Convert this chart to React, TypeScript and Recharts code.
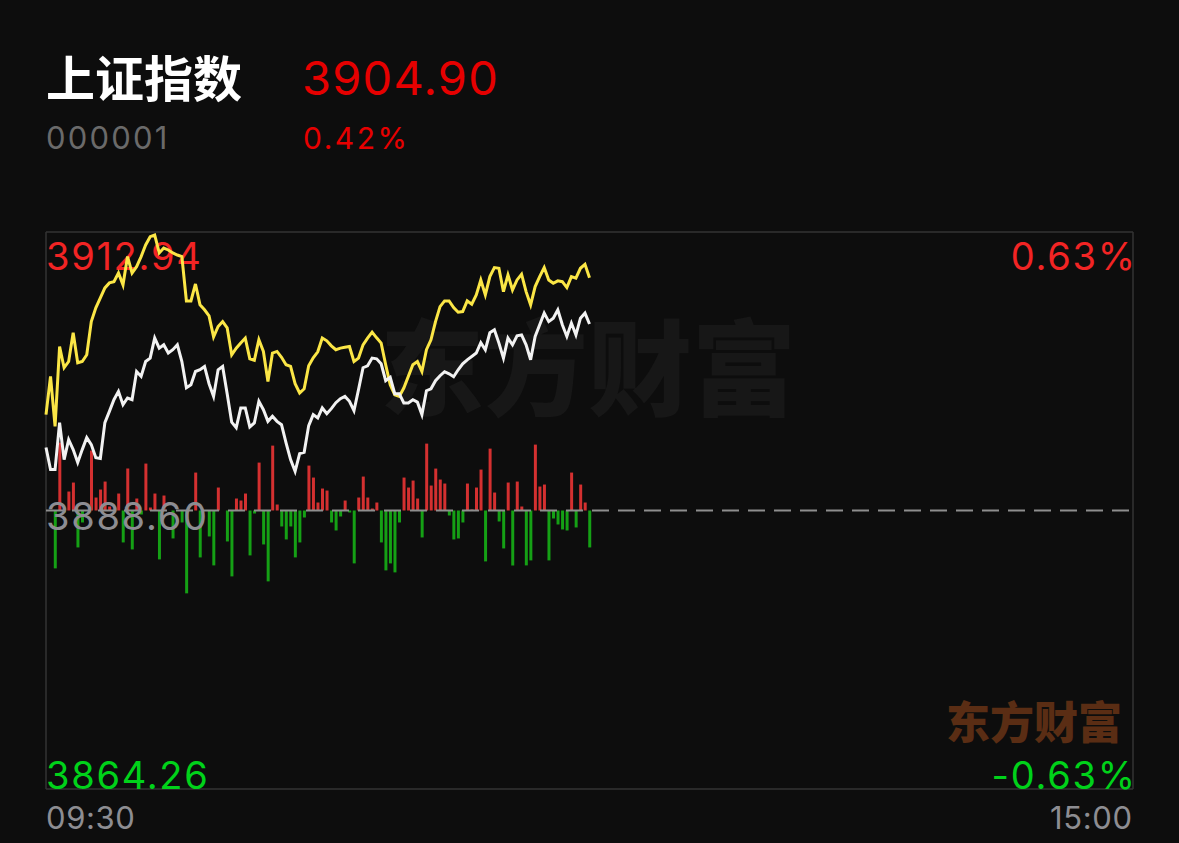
import React from "react";
import {
  ComposedChart,
  Line,
  Bar,
  Cell,
  XAxis,
  YAxis,
  CartesianGrid,
  ReferenceLine,
} from "recharts";

// ---- data ----
const indexName = "上证指数";
const indexCode = "000001";
const lastPrice = 3904.9;
const PREV_CLOSE = 3888.6;
const HIGH = 3912.94;
const LOW = 3864.26;
const QUARTER_UP = 3900.77;
const QUARTER_DOWN = 3876.43;
const timeLabels = ["09:30", "15:00"];
const minuteTicks = [0, 60, 120, 180, 240];
const priceTicks = [LOW, QUARTER_DOWN, PREV_CLOSE, QUARTER_UP, HIGH];

const yellowPrices = [
  3896.98, 3900.32, 3895.95, 3902.93, 3901.08, 3901.62, 3904.13, 3901.51, 3901.62, 3902.21,
  3905.11, 3906.31, 3907.18, 3908.05, 3908.49, 3908.6, 3909.36, 3908.32, 3910.79, 3909.36,
  3909.91, 3910.79, 3911.81, 3912.53, 3912.68, 3911.11, 3911.54, 3911.37, 3911.11, 3910.93,
  3910.79, 3906.92, 3906.92, 3908.4, 3906.57, 3906.14, 3905.61, 3903.78, 3904.68, 3905.11,
  3904.57, 3902.21, 3902.79, 3903.23, 3903.67, 3901.86, 3901.73, 3903.52, 3902.5, 3899.88,
  3902.36, 3902.5, 3901.99, 3901.34, 3901.19, 3899.68, 3898.87, 3899.24, 3901.25, 3901.95,
  3902.47, 3903.67, 3903.43, 3902.99, 3902.65, 3902.79, 3902.86, 3902.93, 3901.62, 3901.92,
  3903.08, 3903.67, 3904.19, 3903.69, 3903.23, 3901.34, 3899.59, 3898.72, 3898.57, 3899.3,
  3900.32, 3901.34, 3901.62, 3900.75, 3902.65, 3903.52, 3905.11, 3906.42, 3906.92, 3906.92,
  3906.34, 3905.93, 3905.99, 3906.92, 3906.63, 3907.44, 3908.75, 3907.44, 3909.04, 3909.83,
  3909.77, 3907.73, 3909.19, 3907.88, 3908.75, 3909.25, 3907.73, 3906.57, 3908.17, 3909.04,
  3909.83, 3908.75, 3908.46, 3908.67, 3908.6, 3908.08, 3909.04, 3908.9, 3909.77, 3910.12,
  3908.95,
];

const whitePrices = [
  3894.1, 3892.18, 3892.18, 3896.28, 3893.05, 3894.79, 3893.92, 3892.79, 3893.92, 3894.97,
  3894.36, 3893.22, 3893.14, 3896.28, 3897.26, 3898.28, 3899.01, 3897.85, 3898.43, 3898.28,
  3900.75, 3900.32, 3901.62, 3901.92, 3903.67, 3902.79, 3903.08, 3902.36, 3902.65, 3903.08,
  3901.62, 3899.33, 3899.59, 3900.75, 3900.9, 3901.19, 3899.68, 3898.57, 3900.9, 3901.19,
  3898.81, 3896.32, 3895.84, 3897.56, 3897.56, 3895.9, 3896.25, 3898.14, 3897.41, 3896.39,
  3896.83, 3896.39, 3896.1, 3894.51, 3893.05, 3892.03, 3893.57, 3893.69, 3896.02, 3896.98,
  3896.69, 3897.56, 3897.06, 3897.5, 3898.02, 3898.37, 3898.57, 3898.14, 3897.32, 3899.16,
  3901.08, 3901.25, 3901.92, 3901.86, 3901.42, 3899.94, 3900.25, 3898.81, 3898.81, 3898.0,
  3898.0, 3898.28, 3898.07, 3896.98, 3899.07, 3899.24, 3899.94, 3900.38, 3900.73, 3900.55,
  3900.29, 3900.9, 3901.42, 3901.77, 3902.06, 3902.36, 3903.26, 3902.65, 3904.13, 3904.39,
  3903.23, 3901.92, 3903.67, 3903.08, 3903.87, 3903.95, 3903.08, 3901.77, 3903.81, 3904.83,
  3905.85, 3905.11, 3905.41, 3906.14, 3904.83, 3903.81, 3904.98, 3903.95, 3905.41, 3905.85,
  3904.9,
];

const barValues = [
  0, 0, -58, 68, -2, 19, 28, -37, -12, 0,
  60, 13, 21, 29, 4, 0, 17, -32, 42, -39,
  12, -4, 47, 3, 17, -49, 15, 0, -28, 0,
  -12, -83, 0, 38, -47, 0, -26, -55, 23, 0,
  -31, -66, 12, 10, 17, -45, -3, 48, -34, -71,
  65, 6, -16, -29, -16, -47, -32, -7, 45, 33,
  8, 22, 20, -12, -20, -6, 10, -2, -53, 13,
  34, 13, 2, 8, -32, -60, -53, -62, -12, 33,
  23, 30, 12, -27, 67, 25, 42, 31, 27, -5,
  -29, -28, -12, 27, 1, 23, 41, -51, 62, 18,
  -11, -38, 28, -55, 29, 4, -55, -50, 66, 24,
  26, -50, -8, -14, -19, -20, 38, -17, 26, 8,
  -37,
];
const BAR_RANGE = 279;

const data = yellowPrices.map((y, i) => ({
  t: i,
  yellow: y,
  white: whitePrices[i],
  bar: barValues[i],
}));

// ---- styles ----
const BG = "#0d0d0d";
const NUM_FONT = "Inter, 'Noto Sans', sans-serif";
const CJK_FONT = "'Noto Sans CJK SC', sans-serif";
const RED = "#f22424";
const GREEN = "#00d21a";
const GRAY = "#8d8d92";
const GRID = "#333333";

const pct = (v: number) => ((v - PREV_CLOSE) / PREV_CLOSE) * 100;

// label rendered from a ReferenceLine's viewBox (positioned by the chart's scales)
function makeLabel(
  text: string,
  color: string,
  side: "left" | "right",
  dy: number,
  size = 38,
  bottom = false,
  spacing = 0.045,
  rightPad = 2
) {
  return (props: any) => {
    const vb = props.viewBox || {};
    const bx = vb.x || 0;
    const by = (vb.y || 0) + (bottom ? vb.height || 0 : 0);
    const w = vb.width || 0;
    const ls = size * spacing;
    const x = side === "left" ? bx : bx + w + ls + rightPad;
    return (
      <text
        x={x}
        y={by + dy}
        fill={color}
        fontSize={size}
        fontFamily={NUM_FONT}
        letterSpacing={ls}
        textAnchor={side === "left" ? "start" : "end"}
      >
        {text}
      </text>
    );
  };
}

export default function App() {
  const upPct = pct(HIGH).toFixed(2) + "%";
  const downPct = pct(LOW).toFixed(2) + "%";
  const lastPct = pct(lastPrice).toFixed(2) + "%";
  return (
    <div
      style={{
        position: "fixed",
        left: 0,
        top: 0,
        width: 1179,
        height: 843,
        background: BG,
        overflow: "hidden",
      }}
    >
      {/* header */}
      <div
        style={{
          position: "absolute",
          left: 46,
          top: 46,
          fontFamily: CJK_FONT,
          fontSize: 49,
          fontWeight: 700,
          color: "#ffffff",
          lineHeight: "60px",
          whiteSpace: "nowrap",
        }}
      >
        {indexName}
      </div>
      <div
        style={{
          position: "absolute",
          left: 302,
          top: 48,
          fontFamily: NUM_FONT,
          fontSize: 47,
          letterSpacing: 1.2,
          color: "#e60000",
          lineHeight: "60px",
        }}
      >
        {lastPrice.toFixed(2)}
      </div>
      <div
        style={{
          position: "absolute",
          left: 46,
          top: 118,
          fontFamily: NUM_FONT,
          fontSize: 31,
          letterSpacing: 2.2,
          color: "#6a6a6a",
          lineHeight: "40px",
        }}
      >
        {indexCode}
      </div>
      <div
        style={{
          position: "absolute",
          left: 303,
          top: 118,
          fontFamily: NUM_FONT,
          fontSize: 30,
          letterSpacing: 2.5,
          color: "#e60000",
          lineHeight: "40px",
        }}
      >
        {lastPct}
      </div>

      {/* watermarks */}
      <div
        style={{
          position: "absolute",
          left: 380,
          top: 303,
          fontFamily: CJK_FONT,
          fontSize: 104,
          fontWeight: 900,
          color: "#171717",
          lineHeight: "120px",
          whiteSpace: "nowrap",
        }}
      >
        东方财富
      </div>
      <div
        style={{
          position: "absolute",
          left: 946,
          top: 692,
          fontFamily: CJK_FONT,
          fontSize: 44,
          fontWeight: 900,
          color: "#5a2d14",
          lineHeight: "56px",
          whiteSpace: "nowrap",
        }}
      >
        东方财富
      </div>

      <div style={{ position: "absolute", left: 0, top: 0 }}>
        <ComposedChart
          width={1179}
          height={843}
          data={data}
          margin={{ top: 232, right: 46, bottom: 54, left: 46 }}
        >
          <CartesianGrid stroke={GRID} strokeWidth={1.5} yAxisId="price" fill="none" />
          <XAxis
            dataKey="t"
            type="number"
            domain={[0, 240]}
            ticks={minuteTicks}
            height={0}
            axisLine={false}
            tickLine={false}
            tick={false}
            interval={0}
          />
          <YAxis
            yAxisId="price"
            type="number"
            domain={[LOW, HIGH]}
            ticks={priceTicks}
            width={0}
            axisLine={false}
            tickLine={false}
            tick={false}
            interval={0}
            allowDataOverflow
          />
          <YAxis yAxisId="bar" type="number" domain={[-BAR_RANGE, BAR_RANGE]} hide allowDataOverflow />
          <Bar yAxisId="bar" dataKey="bar" barSize={3} isAnimationActive={false}>
            {data.map((d, i) => (
              <Cell key={i} fill={d.bar >= 0 ? "#d43030" : "#15a015"} />
            ))}
          </Bar>
          <ReferenceLine
            yAxisId="price"
            y={PREV_CLOSE}
            stroke="#8e8e8e"
            strokeWidth={2}
            strokeDasharray="17 9"
            label={makeLabel(PREV_CLOSE.toFixed(2), GRAY, "left", 19)}
          />
          <ReferenceLine
            yAxisId="price"
            y={HIGH}
            stroke="none"
            label={makeLabel(HIGH.toFixed(2), RED, "left", 38)}
          />
          <ReferenceLine
            yAxisId="price"
            y={HIGH}
            stroke="none"
            label={makeLabel(upPct, RED, "right", 38)}
          />
          <ReferenceLine
            yAxisId="price"
            y={LOW}
            stroke="none"
            label={makeLabel(LOW.toFixed(2), GREEN, "left", 0)}
          />
          <ReferenceLine
            yAxisId="price"
            y={LOW}
            stroke="none"
            label={makeLabel(downPct, GREEN, "right", 0)}
          />
          <ReferenceLine
            yAxisId="price"
            x={minuteTicks[0]}
            stroke="none"
            label={makeLabel(timeLabels[0], GRAY, "left", 40, 31, true, 0.02)}
          />
          <ReferenceLine
            yAxisId="price"
            x={minuteTicks[minuteTicks.length - 1]}
            stroke="none"
            label={makeLabel(timeLabels[1], GRAY, "right", 40, 31, true, 0.02, -1)}
          />
          <Line
            yAxisId="price"
            dataKey="yellow"
            stroke="#fbe646"
            strokeWidth={3}
            dot={false}
            isAnimationActive={false}
          />
          <Line
            yAxisId="price"
            dataKey="white"
            stroke="#f2f2f2"
            strokeWidth={3}
            dot={false}
            isAnimationActive={false}
          />
        </ComposedChart>
      </div>
    </div>
  );
}
